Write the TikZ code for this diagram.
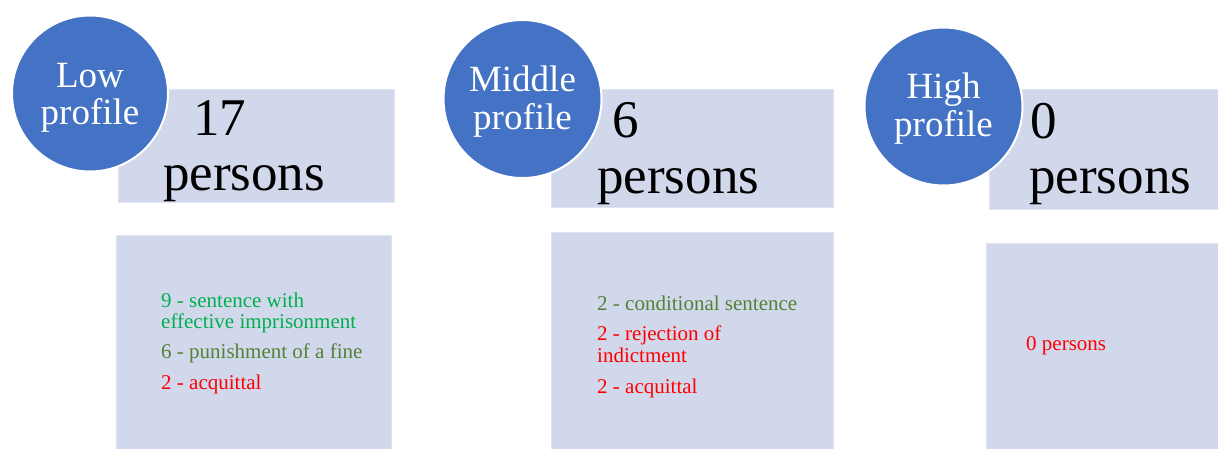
\documentclass[tikz,border=0pt]{standalone}
\usepackage{fontspec}
\setmainfont{Liberation Serif}
\definecolor{circblue}{RGB}{68,114,196}
\definecolor{boxfill}{RGB}{210,216,235}
\definecolor{boxedge}{RGB}{224,228,241}
\definecolor{brightgreen}{RGB}{0,176,80}
\definecolor{olivegreen}{RGB}{84,130,53}
\definecolor{redtext}{RGB}{255,0,0}
\begin{document}
\begin{tikzpicture}[x=1pt,y=-1pt,
  box/.style={fill=boxfill, draw=boxedge, line width=0.6pt, anchor=north west, inner sep=0pt, outer sep=0pt},
  badge/.style={circle, fill=circblue, draw=white, line width=2pt, inner sep=0pt},
  badgetext/.style={anchor=base, inner sep=0pt, text=white, font=\fontsize{37}{37}\selectfont},
  bigtext/.style={anchor=base west, inner sep=0pt, text=black, font=\fontsize{53}{55}\selectfont},
  listtext/.style={anchor=base west, inner sep=0pt, font=\fontsize{21}{21}\selectfont}]
\useasboundingbox (0,0) rectangle (1218,448);
\fill[white] (0,0) rectangle (1218,448);
% panel 1
\node[box, minimum width=276pt, minimum height=113pt] (t1) at (118,89) {};
\node[box, minimum width=275pt, minimum height=220pt] (b1) at (116,235) {};
\node[badge, minimum size=156pt] (c1) at (90,93.5) {};
\node[badgetext] (c1a) at (90,87) {Low};
\node[badgetext] (c1b) at (90,124) {profile};
\node[bigtext] (n1a) at (193,135) {17};
\node[bigtext] (n1b) at (163,190) {persons};
\node[listtext, text=brightgreen] (l1a) at (161,307) {9 - sentence with};
\node[listtext, text=brightgreen] (l1b) at (161,328) {effective imprisonment};
\node[listtext, text=olivegreen] (l1c) at (161,358) {6 - punishment of a fine};
\node[listtext, text=redtext] (l1d) at (161,389) {2 - acquittal};
% panel 2
\node[box, minimum width=282pt, minimum height=118pt] (t2) at (551,89) {};
\node[box, minimum width=282pt, minimum height=223pt] (b2) at (551,232) {};
\node[badge, minimum size=158pt] (c2) at (522.5,99) {};
\node[badgetext] (c2a) at (522.5,91) {Middle};
\node[badgetext] (c2b) at (522.5,129) {profile};
\node[bigtext] (n2a) at (612,137) {6};
\node[bigtext] (n2b) at (597,193) {persons};
\node[listtext, text=olivegreen] (l2a) at (597,310) {2 - conditional sentence};
\node[listtext, text=redtext] (l2b) at (597,340) {2 - rejection of};
\node[listtext, text=redtext] (l2c) at (597,362) {indictment};
\node[listtext, text=redtext] (l2d) at (597,393) {2 - acquittal};
% panel 3
\node[box, minimum width=236pt, minimum height=120pt] (t3) at (989,89) {};
\node[box, minimum width=239pt, minimum height=212pt] (b3) at (986,243) {};
\node[badge, minimum size=158pt] (c3) at (943.5,106.5) {};
\node[badgetext] (c3a) at (943.5,98) {High};
\node[badgetext] (c3b) at (943.5,136) {profile};
\node[bigtext] (n3a) at (1030,138) {0};
\node[bigtext] (n3b) at (1029,193) {persons};
\node[listtext, text=redtext] (l3a) at (1026,350) {0 persons};
\end{tikzpicture}
\end{document}
